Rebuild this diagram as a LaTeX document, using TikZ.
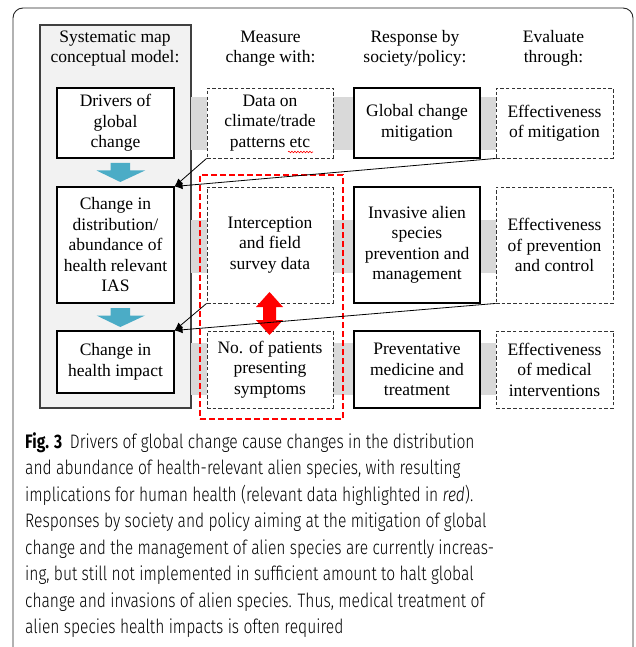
\documentclass[tikz,border=0pt]{standalone}
\usepackage{fontspec}
\usepackage{graphicx}
\setmainfont{Liberation Serif}
\newfontfamily\capfont{Fira Sans}[UprightFont={* Light},BoldFont={* Bold},ItalicFont={* Light Italic}]
\usetikzlibrary{arrows.meta,decorations.pathmorphing}
\definecolor{bluearr}{HTML}{4BACC6}
\definecolor{bandgray}{HTML}{D9D9D9}
\definecolor{colgray}{HTML}{F2F2F2}
\newcommand{\capl}[1]{\scalebox{0.8}[1]{#1}}
\tikzset{
  boxtext/.style={align=center, font=\fontsize{17.5}{20.5}\selectfont, inner sep=0pt},
  solidbox/.style={boxtext, draw=black, line width=1.1pt, fill=white},
  dashbox/.style={boxtext, draw=black!80, dash pattern=on 3.5pt off 2.2pt, line width=0.9pt, fill=white},
  hdr/.style={boxtext},
  band/.style={fill=bandgray},
  bluearrow/.style={fill=bluearr},
  thinarrow/.style={-{Latex[length=8pt,width=7pt]}, line width=0.8pt, black},
  capline/.style={anchor=base west, inner sep=0pt, font=\capfont\fontsize{19.5}{26.4}\selectfont}
}
\begin{document}
\begin{tikzpicture}[x=1pt,y=-1pt]
\useasboundingbox (0,0) rectangle (636,647);
% outer frame
\draw[line width=0.9pt, black!85, rounded corners=10pt] (13,652) -- (13,8) -- (633,8) -- (633,652);
% gray column
\node[draw=black!75, fill=colgray, line width=1.1pt, minimum width=151pt, minimum height=383pt, inner sep=0pt] (colbg) at (115.5,216.5) {};
% bands
\fill[band] (191,97) rectangle (496,150);
\fill[band] (191,220) rectangle (496,273);
\fill[band] (191,343) rectangle (496,395);
% headers
\node[hdr] (h1) at (115,48.5) {Systematic map\\conceptual model:};
\node[hdr] (h2) at (270.5,48.5) {Measure\\change with:};
\node[hdr] (h3) at (415,48.5) {Response by\\society/policy:};
\node[hdr] (h4) at (553.5,48.5) {Evaluate\\through:};
% column 1
\node[solidbox, minimum width=117pt, minimum height=70pt] (drv) at (115.5,123) {Drivers of\\global\\change};
\node[solidbox, minimum width=117pt, minimum height=116pt] (dist) at (115.5,245) {Change in\\distribution/\\abundance of\\health relevant\\IAS};
\node[solidbox, minimum width=117pt, minimum height=62pt] (imp) at (115.5,362) {Change in\\health impact};
% column 2
\node[dashbox, minimum width=126pt, minimum height=70pt] (dat) at (270,123) {Data on\\climate/trade\\patterns etc};
\node[dashbox, minimum width=126pt, minimum height=116pt] (icp) at (270,245) {Interception\\and field\\survey data};
\node[dashbox, minimum width=126pt, minimum height=77pt] (pat) at (270,369.5) {No. of patients\\presenting\\symptoms};
% column 3
\node[solidbox, minimum width=126pt, minimum height=70pt] (mit) at (417,123) {Global change\\mitigation};
\node[solidbox, minimum width=126pt, minimum height=116pt] (ias) at (417,245) {Invasive alien\\species\\prevention and\\management};
\node[solidbox, minimum width=126pt, minimum height=77pt] (med) at (417,369.5) {Preventative\\medicine and\\treatment};
% column 4
\node[dashbox, minimum width=117pt, minimum height=70pt] (emit) at (554.5,123) {Effectiveness\\of mitigation};
\node[dashbox, minimum width=117pt, minimum height=116pt] (eprev) at (554.5,245) {Effectiveness\\of prevention\\and control};
\node[dashbox, minimum width=117pt, minimum height=77pt] (emed) at (554.5,369.5) {Effectiveness\\of medical\\interventions};
% spell-check squiggle
\draw[red, line width=0.6pt, decorate, decoration={snake, amplitude=0.8pt, segment length=3pt}] (288,152) -- (313,152);
% blue block arrows
\fill[bluearrow] (110.5,163) -- (130,163) -- (130,170.5) -- (145,170.5) -- (120.3,182) -- (96.5,170.5) -- (110.5,170.5) -- cycle;
\fill[bluearrow] (110.5,308) -- (130,308) -- (130,315.5) -- (145,315.5) -- (120.3,327) -- (96.5,315.5) -- (110.5,315.5) -- cycle;
% red highlight
\node[draw=red, dash pattern=on 6pt off 3pt, line width=1.8pt, minimum width=143pt, minimum height=244pt, inner sep=0pt] (hl) at (271.5,297) {};
\fill[red] (269.5,292) -- (283,307) -- (276,307) -- (276,320) -- (283,320) -- (269.5,335) -- (256,320) -- (263,320) -- (263,307) -- (256,307) -- cycle;
% thin arrows
\draw[thinarrow] (dat.south west) -- (dist.north east);
\draw[thinarrow] (emit.south west) -- (dist.north east);
\draw[thinarrow] (icp.south west) -- (imp.north east);
\draw[thinarrow] (eprev.south west) -- (imp.north east);
% caption
\node[capline] (c1) at (25,448) {\capl{\textbf{Fig. 3}\hspace{0.5em}Drivers of global change cause changes in the distribution}};
\node[capline] (c2) at (25,474.5) {\capl{and abundance of health-relevant alien species, with resulting}};
\node[capline] (c3) at (25,501) {\capl{implications for human health (relevant data highlighted in \textit{red}).}};
\node[capline] (c4) at (25,527.5) {\capl{Responses by society and policy aiming at the mitigation of global}};
\node[capline] (c5) at (25,554) {\capl{change and the management of alien species are currently increas-}};
\node[capline] (c6) at (25,580.5) {\capl{ing, but still not implemented in sufficient amount to halt global}};
\node[capline] (c7) at (25,607) {\capl{change and invasions of alien species. Thus, medical treatment of}};
\node[capline] (c8) at (25,633.5) {\capl{alien species health impacts is often required}};
\end{tikzpicture}
\end{document}
